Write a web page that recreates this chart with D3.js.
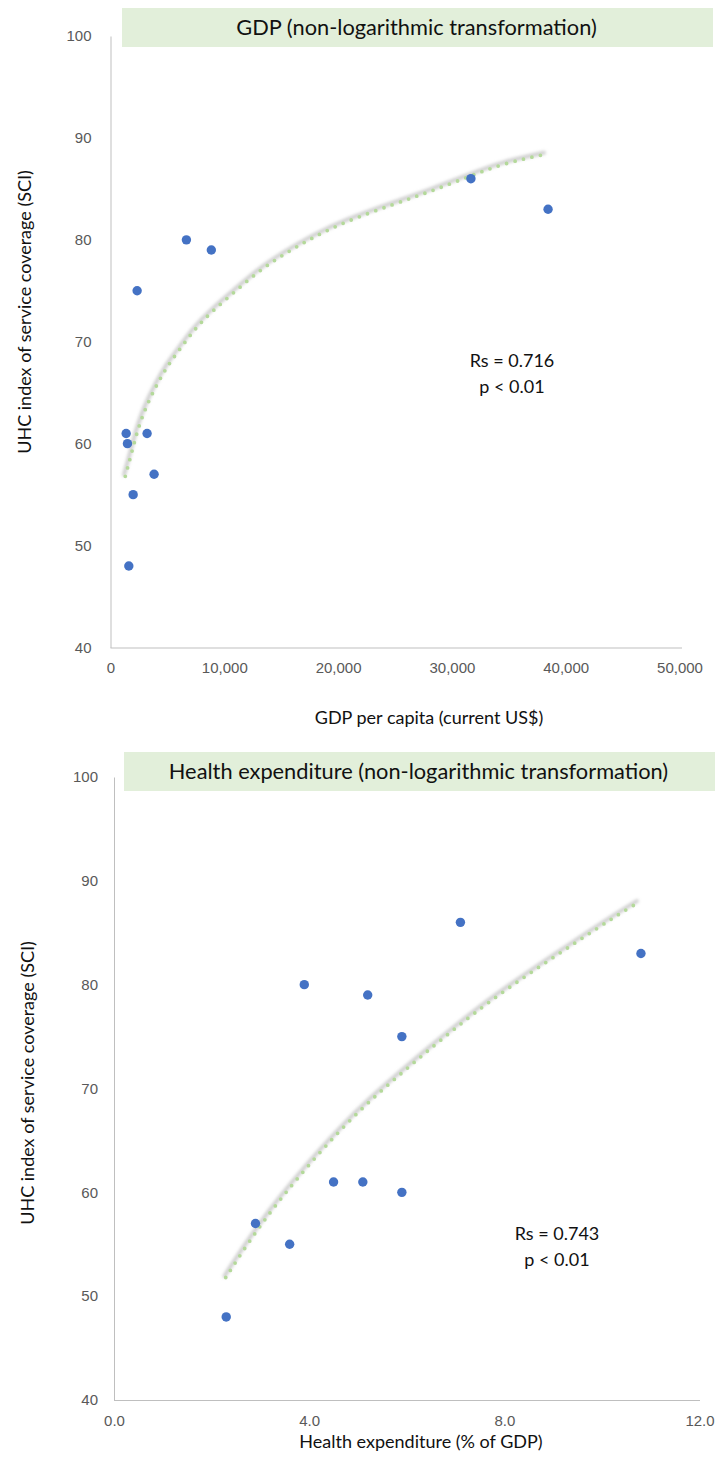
<!DOCTYPE html>
<html>
<head>
<meta charset="utf-8">
<script src="https://cdn.jsdelivr.net/npm/d3@7"></script>
<style>
  body { margin: 0; background: #fff; }
  svg { display: block; font-family: Lato, "Open Sans", sans-serif; }
  .tick text { fill: #595959; font-size: 15px; }
</style>
</head>
<body>
<svg id="chart" width="716" height="1475"></svg>
<script>
// one entry per country, same order in every array
var sci = [86, 83, 80, 79, 75, 61, 61, 60, 57, 55, 48];
var gdpPerCapita = [31670, 38450, 6670, 8860, 2340, 1375, 3215, 1490, 3830, 1990, 1610];
var healthExp = [7.1, 10.8, 3.9, 5.2, 5.9, 4.5, 5.1, 5.9, 2.9, 3.6, 2.3];

// trendline
var gdpTrendX = [1300, 1860, 2390, 3110, 4020, 4980, 6180, 7440, 8840, 11010, 13200, 15540, 17880, 20660, 24900, 28260, 31710, 34540, 38200];
var gdpTrendY = [56.8, 59.1, 61.4, 63.6, 65.7, 67.6, 69.4, 71.3, 72.9, 75.0, 77.1, 78.8, 80.3, 81.8, 83.5, 84.8, 86.3, 87.5, 88.4];
var healthTrendX = [2.29, 2.73, 3.20, 3.68, 4.19, 4.70, 5.24, 5.80, 6.37, 6.94, 7.83, 9.12, 10.28, 10.74];
var healthTrendY = [51.8, 55.0, 58.1, 60.9, 63.7, 66.3, 68.8, 71.1, 73.4, 75.6, 78.9, 83.0, 86.6, 87.9];

var yTicks = [40, 50, 60, 70, 80, 90, 100];
var gdpTicks = [0, 10000, 20000, 30000, 40000, 50000];
var healthTicks = [0, 4, 8, 12];

var svg = d3.select("#chart");

// soft grey halo behind the dotted trendline
var defs = svg.append("defs");
defs.append("filter").attr("id", "glow")
  .attr("x", "-10%").attr("y", "-10%").attr("width", "120%").attr("height", "120%")
  .append("feGaussianBlur").attr("stdDeviation", 1.5);

function drawPanel(cfg) {
  var x = d3.scaleLinear().domain(cfg.xDomain).range([cfg.left, cfg.right]);
  var y = d3.scaleLinear().domain([40, 100]).range([cfg.bottom, cfg.top]);
  var g = svg.append("g");

  // title box
  g.append("rect")
    .attr("x", cfg.box[0]).attr("y", cfg.box[1])
    .attr("width", cfg.box[2]).attr("height", cfg.box[3])
    .attr("fill", "#e2efda");
  g.append("text")
    .attr("x", cfg.box[0] + cfg.box[2] / 2 - 1)
    .attr("y", cfg.box[1] + 27)
    .attr("text-anchor", "middle")
    .style("font-size", "21.8px")
    .attr("fill", "#111")
    .text(cfg.title);

  // axes
  var yAxis = d3.axisLeft(y).tickValues(yTicks).tickSize(0).tickPadding(cfg.yPad);
  g.append("g")
    .attr("transform", "translate(" + cfg.left + ",0)")
    .call(yAxis)
    .call(function(a) { a.select(".domain").attr("stroke", "#bfbfbf"); });

  var xAxis = d3.axisBottom(x).tickValues(cfg.xTicks).tickSize(0).tickPadding(15).tickFormat(cfg.fmt);
  g.append("g")
    .attr("transform", "translate(0," + cfg.bottom + ")")
    .call(xAxis)
    .call(function(a) {
      a.select(".domain").attr("stroke", "#bfbfbf").attr("d", "M" + cfg.left + ",0.5H" + cfg.axisEnd);
    });

  // axis titles
  g.append("text")
    .attr("transform", "translate(" + cfg.yTitle[0] + "," + cfg.yTitle[1] + ") rotate(-90)")
    .attr("text-anchor", "middle")
    .attr("dy", "0.35em")
    .style("font-size", "18px")
    .attr("fill", "#111")
    .text("UHC index of service coverage (SCI)");
  g.append("text")
    .attr("x", cfg.xTitle[0]).attr("y", cfg.xTitle[1])
    .attr("text-anchor", "middle")
    .style("font-size", "18px")
    .attr("fill", "#111")
    .text(cfg.xLabel);

  // trendline
  var trend = cfg.trendX.map(function(v, i) { return [v, cfg.trendY[i]]; });
  var line = d3.line()
    .x(function(d) { return x(d[0]); })
    .y(function(d) { return y(d[1]); })
    .curve(d3.curveBasis);
  g.append("path")
    .attr("d", line(trend))
    .attr("transform", "translate(-1.2,-1.5)")
    .attr("fill", "none")
    .attr("stroke", "#b0b0b0")
    .attr("stroke-opacity", 0.6)
    .attr("stroke-width", 4)
    .attr("stroke-linecap", "round")
    .attr("filter", "url(#glow)");
  g.append("path")
    .attr("d", line(trend))
    .attr("fill", "none")
    .attr("stroke", "#b4d99a")
    .attr("stroke-width", 3.8)
    .attr("stroke-linecap", "round")
    .attr("stroke-dasharray", "0 8.7");

  // points
  g.selectAll(".pt")
    .data(cfg.xs)
    .enter().append("circle")
    .attr("class", "pt")
    .attr("cx", function(d) { return x(d); })
    .attr("cy", function(d, i) { return y(sci[i]); })
    .attr("r", 4.7)
    .attr("fill", "#4472c4");

  // correlation note
  var note = g.append("text")
    .attr("text-anchor", "middle")
    .style("font-size", "18px")
    .attr("fill", "#111");
  note.append("tspan").attr("x", cfg.note[0]).attr("y", cfg.note[1]).text(cfg.rs);
  note.append("tspan").attr("x", cfg.note[0]).attr("y", cfg.note[1] + 26).text("p < 0.01");
}

drawPanel({
  title: "GDP (non-logarithmic transformation)",
  xLabel: "GDP per capita (current US$)",
  xDomain: [0, 50000], xTicks: gdpTicks, fmt: d3.format(","),
  xs: gdpPerCapita, trendX: gdpTrendX, trendY: gdpTrendY,
  left: 110.5, right: 679.5, axisEnd: 682, top: 36, bottom: 647.5,
  box: [122, 8, 591, 39], yPad: 19, yTitle: [25, 312],
  xTitle: [429, 724], note: [512, 367], rs: "Rs = 0.716"
});

drawPanel({
  title: "Health expenditure (non-logarithmic transformation)",
  xLabel: "Health expenditure (% of GDP)",
  xDomain: [0, 12], xTicks: healthTicks, fmt: d3.format(".1f"),
  xs: healthExp, trendX: healthTrendX, trendY: healthTrendY,
  left: 114, right: 699.5, axisEnd: 700, top: 777, bottom: 1400,
  box: [124, 752, 591, 39], yPad: 16, yTitle: [28, 1083],
  xTitle: [421, 1448], note: [557, 1240], rs: "Rs = 0.743"
});
</script>
</body>
</html>
